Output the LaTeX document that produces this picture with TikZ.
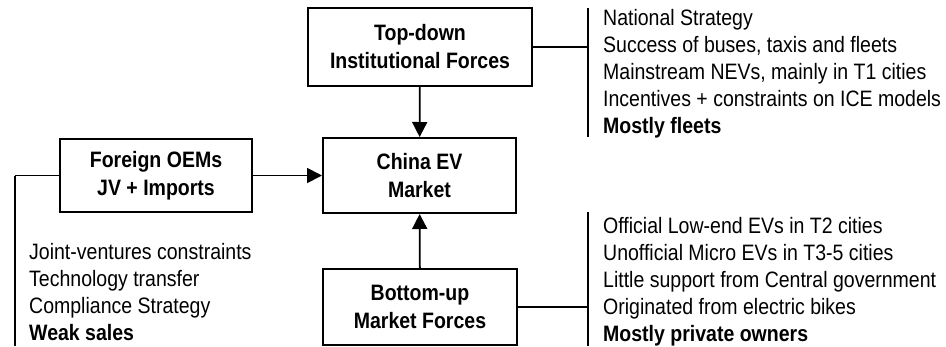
\documentclass[tikz,border=0pt]{standalone}
\usepackage{fontspec}
\setmainfont[FakeStretch=0.875]{Liberation Sans}
\usetikzlibrary{arrows.meta}
\tikzset{
  box/.style={draw, line width=2pt, font=\bfseries\fontsize{22.3}{28}\selectfont, align=center, inner sep=0pt},
  txt/.style={anchor=base west, inner sep=0pt, font=\fontsize{22.3}{27}\selectfont},
  conn/.style={line width=1.8pt},
  arr/.style={conn, -{Triangle[length=15pt,width=15pt]}}
}
\begin{document}
\begin{tikzpicture}[x=1pt,y=-1pt]
\useasboundingbox (0,0) rectangle (946,346);
\node[box, minimum width=224pt, minimum height=78pt] (top) at (420,47) {Top-down\\Institutional Forces};
\node[box, minimum width=193pt, minimum height=75pt] (china) at (419.5,175.5) {China EV\\Market};
\node[box, minimum width=192pt, minimum height=73pt] (foreign) at (156,175.5) {Foreign OEMs\\JV + Imports};
\node[box, minimum width=194pt, minimum height=76pt] (bottom) at (420,307) {Bottom-up\\Market Forces};

\draw[arr] (top) -- (china);
\draw[arr] (bottom) -- (china);
\draw[arr] (foreign.east) -- (china.west |- foreign.east);

% brackets
\coordinate (trA) at (588,8);
\coordinate (trB) at (588,137);
\coordinate (brA) at (588,212);
\coordinate (brB) at (588,346);
\coordinate (lA) at (15,176);
\coordinate (lB) at (15,346);
\draw[conn] (trA) -- (trB);
\draw[conn] (brA) -- (brB);
\draw[conn] (lA) -- (lB);
\draw[conn] (top.east) -- (top.east -| trA);
\draw[conn] (bottom.east) -- (bottom.east -| brA);
\draw[conn] (foreign.west) -- (foreign.west -| lA);

% top right list
\node[txt] (t1) at (603,25) {National Strategy};
\node[txt] (t2) at (603,52) {Success of buses, taxis and fleets};
\node[txt] (t3) at (603,79) {Mainstream NEVs, mainly in T1 cities};
\node[txt] (t4) at (603,106) {Incentives + constraints on ICE models};
\node[txt] (t5) at (603,133) {\textbf{Mostly fleets}};

% bottom right list
\node[txt] (b1) at (603,233) {Official Low-end EVs in T2 cities};
\node[txt] (b2) at (603,260) {Unofficial Micro EVs in T3-5 cities};
\node[txt] (b3) at (603,287) {Little support from Central government};
\node[txt] (b4) at (603,314) {Originated from electric bikes};
\node[txt] (b5) at (603,341) {\textbf{Mostly private owners}};

% left list
\node[txt] (l1) at (29,259) {Joint-ventures constraints};
\node[txt] (l2) at (29,286) {Technology transfer};
\node[txt] (l3) at (29,313) {Compliance Strategy};
\node[txt] (l4) at (29,340) {\textbf{Weak sales}};
\end{tikzpicture}
\end{document}
